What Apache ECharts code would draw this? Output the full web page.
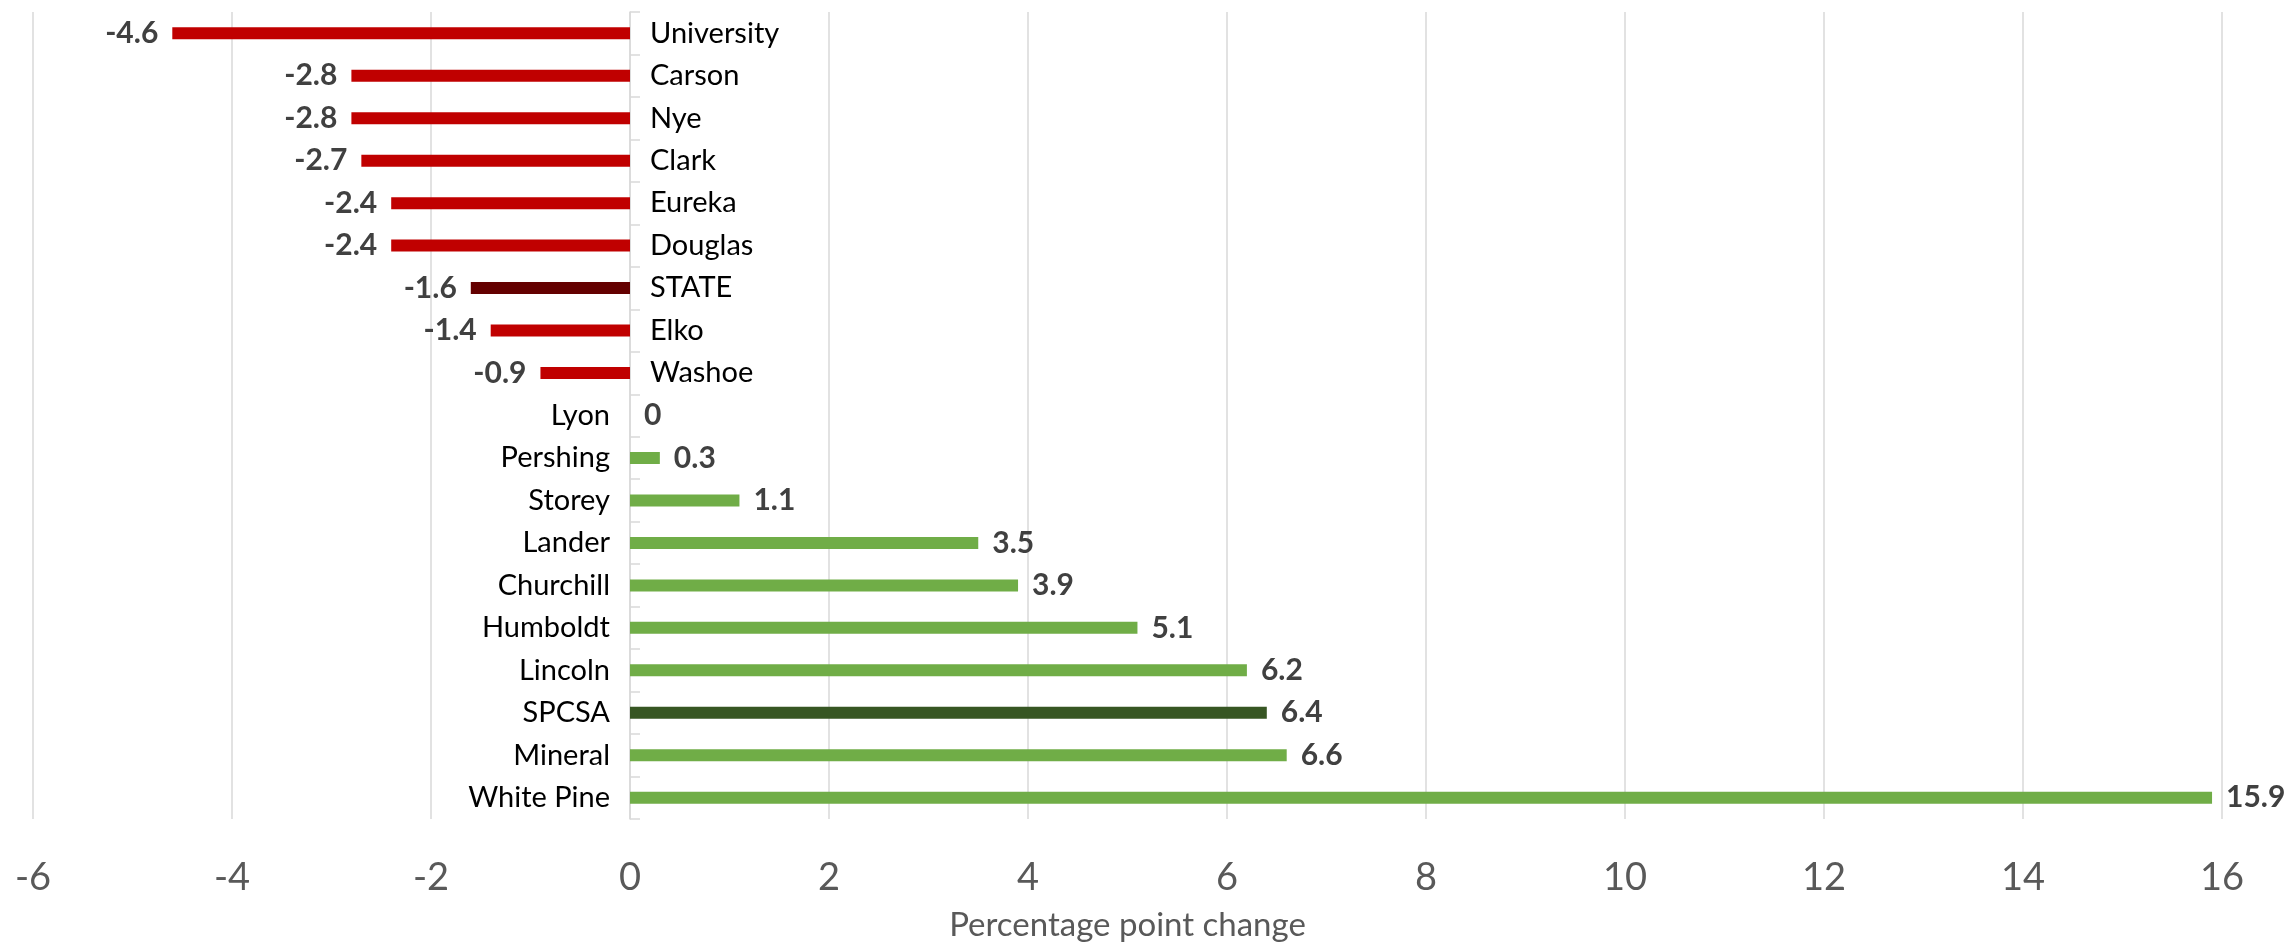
<!DOCTYPE html>
<html>
<head>
<meta charset="utf-8">
<script src="https://cdn.jsdelivr.net/npm/echarts@6/dist/echarts.min.js"></script>
<style>
html,body{margin:0;padding:0;background:#fff;}
#chart{width:2287px;height:946px;}
</style>
</head>
<body>
<div id="chart"></div>
<script>
const categories = ['University','Carson','Nye','Clark','Eureka','Douglas','STATE','Elko','Washoe','Lyon','Pershing','Storey','Lander','Churchill','Humboldt','Lincoln','SPCSA','Mineral','White Pine'];
const values = [-4.6,-2.8,-2.8,-2.7,-2.4,-2.4,-1.6,-1.4,-0.9,0,0.3,1.1,3.5,3.9,5.1,6.2,6.4,6.6,15.9];
const xTicks = [-6,-4,-2,0,2,4,6,8,10,12,14,16];
const axisTitle = 'Percentage point change';
const totals = ['STATE','SPCSA'];

const FONT = 'Lato, "Open Sans", sans-serif';
const W = 2287;
const GRID = {left: 33, right: 65, top: 12, bottom: 127};
const chart = echarts.init(document.getElementById('chart'));

function barColor(name, v) {
  if (v < 0) return totals.includes(name) ? '#640000' : '#C00000';
  return totals.includes(name) ? '#375623' : '#70AD47';
}

chart.setOption({
  animation: false,
  grid: Object.assign({outerBoundsMode: 'none', containLabel: false}, GRID),
  xAxis: {
    type: 'value',
    min: xTicks[0], max: xTicks[xTicks.length - 1], interval: 2,
    axisLine: {show: false},
    axisTick: {show: false},
    splitLine: {show: true, lineStyle: {color: '#d9d9d9', width: 1.5}},
    axisLabel: {color: '#595959', fontSize: 38, fontFamily: FONT, margin: 40},
    name: axisTitle,
    nameLocation: 'middle',
    nameGap: 90,
    nameTextStyle: {color: '#595959', fontSize: 33, fontFamily: FONT}
  },
  yAxis: [
    {
      type: 'category', data: categories, inverse: true, position: 'left',
      axisLine: {show: true, onZero: false, lineStyle: {color: '#d9d9d9', width: 1.5}},
      axisTick: {show: true, inside: true, length: 10, lineStyle: {color: '#d9d9d9', width: 1.5}},
      axisLabel: {
        color: '#000', fontSize: 29, fontFamily: FONT, margin: 20,
        formatter: (v, i) => values[i] >= 0 ? v : ''
      }
    },
    {
      type: 'category', data: categories, inverse: true, position: 'right',
      axisLine: {show: false, onZero: false},
      axisTick: {show: false},
      axisLabel: {
        color: '#000', fontSize: 29, fontFamily: FONT, margin: 20,
        formatter: (v, i) => values[i] < 0 ? v : ''
      }
    }
  ],
  series: [{
    type: 'bar',
    yAxisIndex: 0,
    barWidth: 12,
    data: values.map((v, i) => ({
      value: v,
      itemStyle: {color: barColor(categories[i], v)},
      label: {position: v < 0 ? 'left' : 'right'}
    })),
    label: {
      show: true, distance: 14, color: '#404040', fontWeight: 'bold',
      fontSize: 30, fontFamily: FONT,
      formatter: p => String(p.value)
    }
  }]
});

// move both category axes onto the x = 0 line of the value axis
const zeroPx = chart.convertToPixel({xAxisIndex: 0}, 0);
chart.setOption({
  yAxis: [
    {offset: GRID.left - zeroPx},
    {offset: zeroPx - (W - GRID.right)}
  ]
});
</script>
</body>
</html>
